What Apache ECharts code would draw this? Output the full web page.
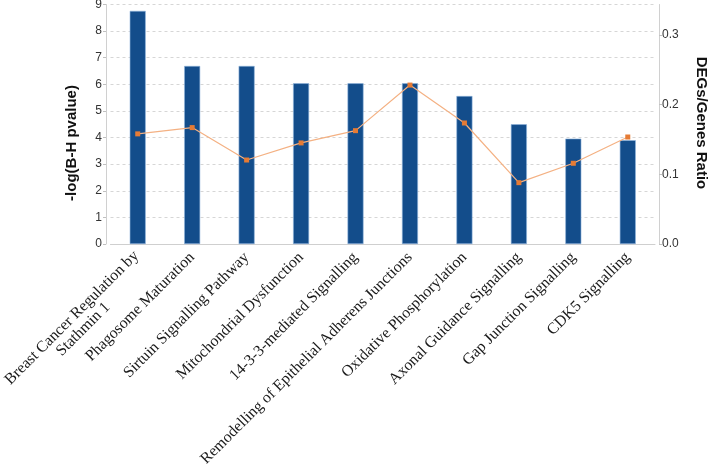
<!DOCTYPE html>
<html><head><meta charset="utf-8">
<script src="https://cdn.jsdelivr.net/npm/echarts@6/dist/echarts.min.js"></script>
<style>html,body{margin:0;padding:0;background:#fff}#c{width:709px;height:466px}</style>
</head><body><div id="c"></div>
<script>
var categories = ['Breast Cancer Regulation by\nStathmin 1','Phagosome Maturation','Sirtuin Signalling Pathway','Mitochondrial Dysfunction','14-3-3-mediated Signalling','Remodelling of Epithelial Adherens Junctions','Oxidative Phosphorylation','Axonal Guidance Signalling','Gap Junction Signalling','CDK5 Signalling'];
var pvalues = [8.76, 6.69, 6.69, 6.04, 6.04, 6.04, 5.56, 4.50, 3.96, 3.90];
var ratios = [0.158, 0.167, 0.1205, 0.145, 0.1626, 0.228, 0.1736, 0.088, 0.1158, 0.1535];
var leftTicks = [0, 9, 1];
var rightTicks = [0, 0.3436, 0.1];

var catData = categories.map(function (c) {
  return c.indexOf('\n') >= 0 ? {value: c, textStyle: {padding: [12, 0, 0, 0]}} : c;
});

var chart = echarts.init(document.getElementById('c'));
chart.setOption({
  animation: false,
  grid: {left: 110.5, right: 54, top: 4.5, bottom: 222, containLabel: false, outerBoundsMode: 'none'},
  xAxis: {
    type: 'category', data: catData,
    axisLine: {lineStyle: {color: '#cfcfcf'}},
    axisTick: {length: 16, lineStyle: {color: '#c4c4c4'}},
    axisLabel: {
      interval: 0, rotate: 45, margin: 11,
      fontFamily: 'Liberation Serif', fontSize: 15.8, color: '#1a1a1a',
      formatter: function (v) { return v.split('\n').map(function (s) { return '{c|' + s + '}'; }).join('\n'); },
      rich: {c: {align: 'center', fontFamily: 'Liberation Serif', fontSize: 15.8, color: '#1a1a1a'}}
    }
  },
  yAxis: [{
    type: 'value', min: leftTicks[0], max: leftTicks[1], interval: leftTicks[2], offset: 4.5,
    axisLine: {show: true, lineStyle: {color: '#d0d0d0'}},
    axisTick: {show: true, length: 3, lineStyle: {color: '#c0c0c0'}},
    axisLabel: {fontFamily: 'Liberation Sans', fontSize: 12, color: '#333', margin: 4},
    splitLine: {show: true, lineStyle: {color: '#d6d6d6', type: [3, 3]}}
  }, {
    type: 'value', min: rightTicks[0], max: rightTicks[1], interval: rightTicks[2], offset: 4,
    axisLine: {show: true, lineStyle: {color: '#d0d0d0'}},
    axisTick: {show: true, length: 3, lineStyle: {color: '#c0c0c0'}},
    axisLabel: {fontFamily: 'Liberation Sans', fontSize: 12, color: '#333', margin: 3, showMaxLabel: false,
      formatter: function (v) { return v.toFixed(1); }},
    splitLine: {show: false}
  }],
  graphic: [
    {type: 'text', x: 72, y: 143, rotation: Math.PI / 2,
      style: {text: '-log(B-H pvalue)', font: 'bold 15px "Liberation Sans"', fill: '#111', textAlign: 'center', textVerticalAlign: 'middle'}},
    {type: 'text', x: 701, y: 123, rotation: -Math.PI / 2,
      style: {text: 'DEGs/Genes Ratio', font: 'bold 15px "Liberation Sans"', fill: '#111', textAlign: 'center', textVerticalAlign: 'middle'}}
  ],
  series: [{
    type: 'bar', data: pvalues, barWidth: 16, yAxisIndex: 0,
    itemStyle: {color: '#134d8b', borderColor: '#8fb4dc', borderWidth: 0.6}
  }, {
    type: 'line', data: ratios, yAxisIndex: 1,
    symbol: 'rect', symbolSize: 5,
    lineStyle: {color: '#f4b183', width: 1.2},
    itemStyle: {color: '#e57b35'}
  }]
});
</script></body></html>
